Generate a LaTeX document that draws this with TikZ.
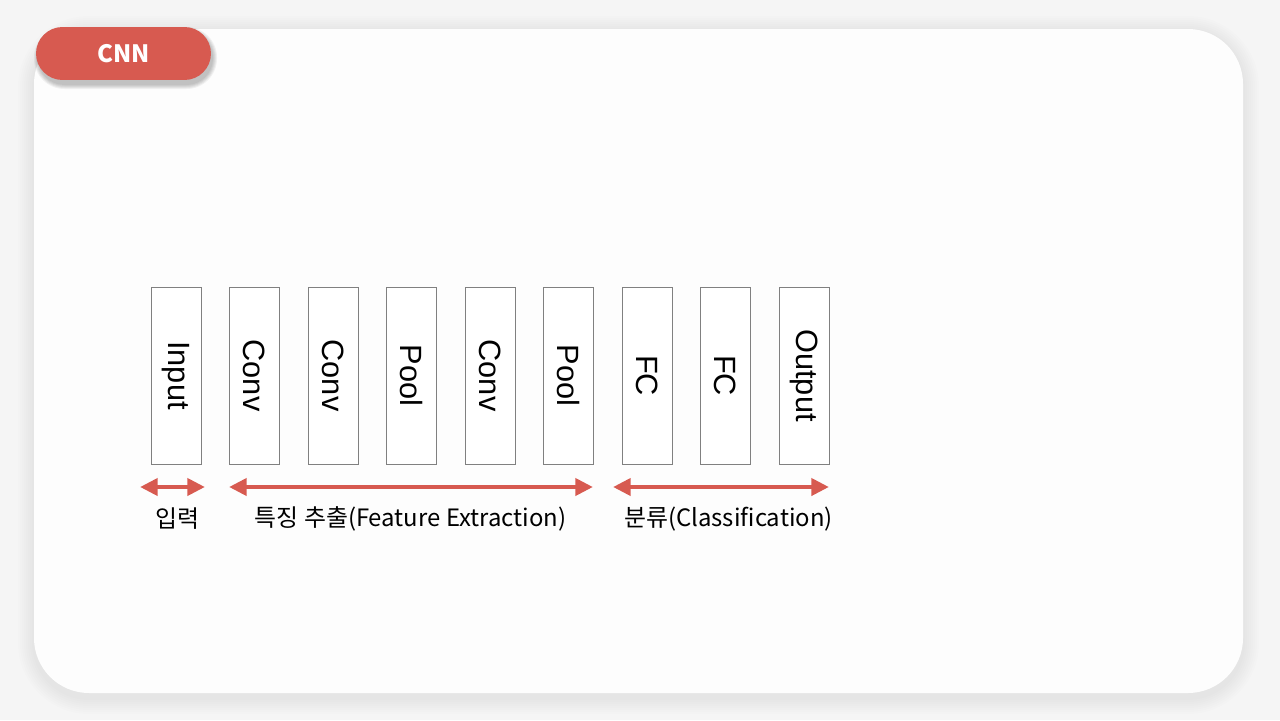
\documentclass[tikz,border=0pt]{standalone}
\usepackage{fontspec}
\setmainfont{Noto Sans CJK KR}
\newfontfamily\layerfont{Liberation Sans}
\usetikzlibrary{arrows.meta}

\definecolor{cnnred}{HTML}{D75A50}
\definecolor{pagegray}{HTML}{F5F5F5}
\definecolor{cardwhite}{HTML}{FDFDFD}
\definecolor{layergray}{HTML}{808080}

\tikzset{
  layer/.style={draw=layergray, line width=0.55pt, fill=white, rotate=-90,
    minimum width=3.54cm, minimum height=1cm, inner sep=0pt,
    font=\layerfont\fontsize{17.5}{18}\selectfont},
  span/.style={draw=cnnred, line width=2.8pt,
    {Triangle[width=9.5pt,length=10pt]}-{Triangle[width=9.5pt,length=10pt]}},
  caption/.style={font=\fontsize{13.6}{15}\selectfont, inner sep=0pt},
  pill/.style={fill=cnnred, rounded corners=0.53cm, minimum width=3.5cm,
    minimum height=1.06cm, text=white, font=\bfseries\fontsize{13.6}{15}\selectfont}
}

\begin{document}
\begin{tikzpicture}[x=0.02cm,y=-0.02cm]
\useasboundingbox (0,0) rectangle (1280,720);
\fill[pagegray] (0,0) rectangle (1280,720);

% card with soft shadow
\foreach \d in {2,4,...,16}
  \fill[black, opacity=0.007, rounded corners=1.1cm+\d*0.02cm]
    (34-\d,32-\d) rectangle (1243+\d,698+\d);
\fill[cardwhite, rounded corners=1.1cm] (34,29) rectangle (1243,693);

% title
\foreach \d in {0,1,2,3,4}
  \fill[black, opacity=0.05, rounded corners=0.53cm+\d*0.02cm]
    (38-\d,31-\d) rectangle (213+\d,85+\d);
\node[pill] (title) at (123.5,53.5) {CNN};

% layers
\foreach \name/\x/\txt in {in/176/Input, cva/254/Conv, cvb/333/Conv, pla/411/Pool,
    cvc/490/Conv, plb/568/Pool, fca/647/FC, fcb/725/FC, out/804/Output}
  \node[layer] (\name) at (\x,375.5) {\txt};

% spans
\coordinate (inL) at (140,487);
\coordinate (inR) at (205,487);
\coordinate (feL) at (229,487);
\coordinate (feR) at (593,487);
\coordinate (clL) at (613,487);
\coordinate (clR) at (829,487);
\draw[span] (inL) -- (inR);
\draw[span] (feL) -- (feR);
\draw[span] (clL) -- (clR);

\node[caption] (inCap) at (177,519) {입력};
\node[caption] (feCap) at (410.5,519) {특징 추출(Feature Extraction)};
\node[caption] (clCap) at (728.5,519) {분류(Classification)};
\end{tikzpicture}
\end{document}
